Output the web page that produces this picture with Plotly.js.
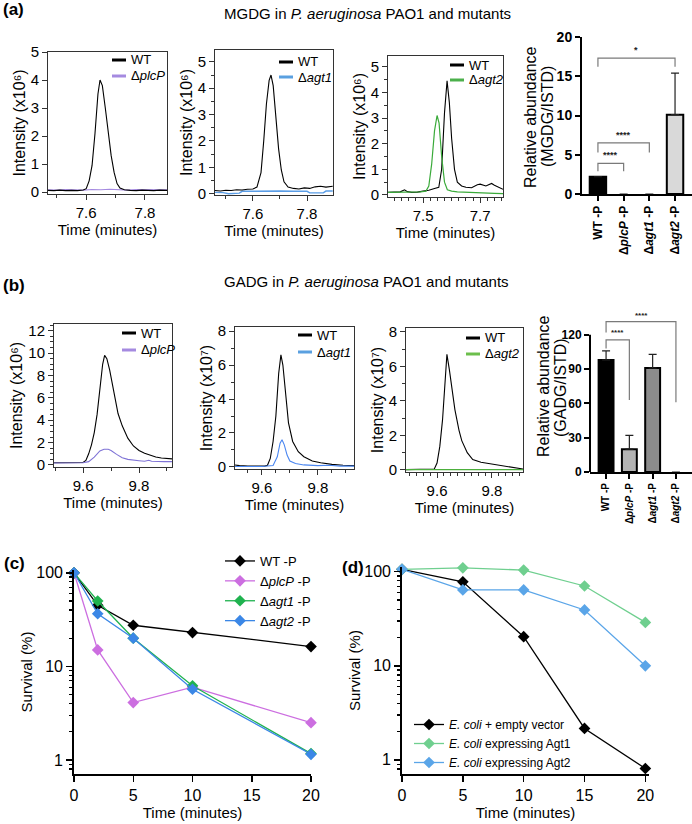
<!DOCTYPE html>
<html><head><meta charset="utf-8">
<script src="https://cdn.plot.ly/plotly-3.0.1.min.js"></script>
<style>html,body{margin:0;padding:0;background:#fff}#chart{width:692px;height:824px}</style>
</head><body><div id="chart"></div>
<script>
// ================= DATA =================
// (a) MGDG chromatograms (intensity, x10^6)
const a1WtT = [7.47,7.49,7.51,7.53,7.55,7.57,7.59,7.60,7.61,7.62,7.63,7.64,7.647,7.655,7.665,7.675,7.685,7.695,7.705,7.715,7.73,7.75,7.77,7.79,7.81,7.83,7.85,7.875];
const a1WtY = [0.06,0.05,0.07,0.05,0.06,0.05,0.07,0.12,0.4,0.95,2.1,3.5,4.0,3.8,3.0,2.1,1.3,0.7,0.3,0.14,0.08,0.06,0.05,0.07,0.06,0.05,0.07,0.06];
const a1PlcT = [7.47,7.50,7.53,7.56,7.59,7.62,7.65,7.68,7.71,7.74,7.77,7.80,7.83,7.86,7.875];
const a1PlcY = [0.08,0.07,0.09,0.08,0.07,0.09,0.08,0.1,0.08,0.07,0.09,0.08,0.07,0.08,0.08];

const a2WtT = [7.46,7.48,7.50,7.52,7.54,7.56,7.58,7.60,7.615,7.63,7.64,7.65,7.66,7.667,7.675,7.685,7.695,7.705,7.715,7.73,7.75,7.77,7.79,7.81,7.83,7.85,7.87,7.895];
const a2WtY = [0.12,0.1,0.13,0.12,0.15,0.14,0.17,0.18,0.25,0.8,2.0,3.4,4.3,4.5,4.1,2.9,1.7,0.9,0.45,0.25,0.2,0.18,0.22,0.2,0.26,0.28,0.25,0.28];
const a2Agt1T = [7.46,7.49,7.51,7.53,7.55,7.56,7.60,7.65,7.70,7.75,7.80,7.81,7.84,7.86,7.87,7.895];
const a2Agt1Y = [0.05,0.04,0.0,0.01,0.02,0.09,0.1,0.09,0.1,0.09,0.09,0.03,0.02,0.03,0.1,0.1];

const a3WtT = [7.377,7.40,7.42,7.435,7.445,7.46,7.48,7.50,7.52,7.54,7.555,7.565,7.575,7.584,7.592,7.60,7.61,7.62,7.635,7.65,7.67,7.69,7.70,7.72,7.74,7.75,7.765,7.78];
const a3WtY = [0.1,0.1,0.12,0.2,0.13,0.1,0.11,0.15,0.18,0.25,0.3,1.0,3.2,4.45,3.6,2.2,1.0,0.5,0.35,0.3,0.28,0.4,0.42,0.35,0.45,0.38,0.3,0.22];
const a3Agt2T = [7.377,7.40,7.43,7.46,7.49,7.51,7.52,7.53,7.54,7.549,7.556,7.565,7.575,7.585,7.60,7.62,7.65,7.68,7.72,7.75,7.78];
const a3Agt2Y = [0.1,0.1,0.11,0.12,0.12,0.15,0.35,1.2,2.5,3.1,2.8,1.5,0.5,0.2,0.15,0.12,0.1,0.09,0.07,0.06,0.05];

// (b) GADG chromatograms
const b1WtT = [9.496,9.52,9.55,9.58,9.60,9.61,9.62,9.63,9.64,9.65,9.66,9.67,9.677,9.685,9.695,9.705,9.715,9.725,9.74,9.76,9.78,9.80,9.82,9.84,9.86,9.88,9.90,9.918];
const b1WtY = [0.2,0.2,0.2,0.21,0.22,0.4,1.0,1.8,2.9,4.5,6.8,9.0,9.8,9.5,8.5,7.2,5.8,4.6,3.5,2.4,1.7,1.3,1.05,0.85,0.72,0.63,0.58,0.55];
const b1PlcT = [9.496,9.53,9.57,9.60,9.62,9.64,9.66,9.675,9.69,9.70,9.72,9.74,9.76,9.78,9.80,9.82,9.835,9.845,9.86,9.89,9.918];
const b1PlcY = [0.18,0.18,0.19,0.2,0.3,0.7,1.25,1.4,1.4,1.3,0.95,0.65,0.5,0.42,0.38,0.33,0.42,0.34,0.31,0.3,0.3];

const b2WtT = [9.504,9.52,9.55,9.58,9.61,9.62,9.63,9.64,9.65,9.66,9.668,9.675,9.685,9.695,9.71,9.73,9.75,9.78,9.81,9.85,9.89,9.929];
const b2WtY = [0.12,0.08,0.05,0.05,0.05,0.1,0.5,1.5,3.0,5.5,6.6,6.0,4.2,2.6,1.5,0.9,0.6,0.35,0.25,0.15,0.1,0.08];
const b2Agt1T = [9.504,9.55,9.60,9.64,9.655,9.665,9.672,9.68,9.69,9.70,9.72,9.75,9.80,9.84,9.86,9.88,9.929];
const b2Agt1Y = [0.03,0.03,0.03,0.08,0.6,1.4,1.6,1.3,0.7,0.35,0.2,0.12,0.08,0.1,0.06,0.05,0.05];

const b3WtT = [9.487,9.52,9.56,9.59,9.60,9.61,9.62,9.628,9.636,9.645,9.655,9.665,9.68,9.69,9.71,9.73,9.76,9.79,9.82,9.855,9.88,9.90,9.913];
const b3WtY = [0.02,0.02,0.02,0.05,0.4,1.35,2.9,4.6,6.7,5.8,4.5,3.5,2.3,1.7,1.0,0.6,0.45,0.38,0.3,0.2,0.15,0.12,0.05];
const b3Agt2T = [9.487,9.55,9.65,9.75,9.85,9.913];
const b3Agt2Y = [0.02,0.02,0.02,0.02,0.02,0.02];

// Bar charts
const barCats = ['WT -P','ΔplcP -P','Δagt1 -P','Δagt2 -P'];
const barTickText = ['WT -P','Δ<i>plcP</i> -P','Δ<i>agt1</i> -P','Δ<i>agt2</i> -P'];
const mgdgMean = [2.2, 0, 0, 10.1];
const mgdgErr  = [0, 0, 0, 5.3];
const gadgMean = [98, 20, 91, 0];
const gadgErr  = [8, 12, 12, 0];
// significance brackets: [fromIdx, toIdx, leftDropY, topY, rightDropY, labelY, label]
const mgdgSig = [[0,3,16.2,17.3,16.2,18.4,'*'],[0,2,5.3,6.5,5.3,7.5,'****'],[0,1,2.9,3.9,2.9,5.0,'****']];
const gadgSig = [[0,3,122,131.5,61,137,'****'],[0,1,108,115.6,63,122,'****']];

// (c) survival, P. aeruginosa
const cTime = [0,2,5,10,20];
const cWT   = [100,45,27.5,23,16.3];
const cPlcP = [100,15,4.1,6.0,2.5];
const cAgt1 = [100,50,20,6.2,1.17];
const cAgt2 = [100,36.5,20,5.7,1.15];
// (d) survival, E. coli
const dTime  = [0,5,10,15,20];
const dEmpty = [106,78,20.4,2.16,0.81];
const dAgt1  = [106,110,104,70.5,28.9];
const dAgt2  = [106,64,64,39.2,10];

// ================= LAYOUT HELPERS =================
const W = 692, H = 824;
const px = x => x / W;
const py = y => 1 - y / H;
const FONT = 'Arial, "Liberation Sans", sans-serif';
const AX = '#333';
const sfx = n => (n === 1 ? '' : String(n));

const layout = {
  width: W, height: H, margin: {l:0, r:0, t:0, b:0},
  paper_bgcolor: '#fff', plot_bgcolor: '#fff',
  font: {family: FONT, color: '#000'},
  showlegend: true,
  annotations: [], shapes: []
};
const data = [];

function chrom(n, box, xr, yr, xtick0, xminor, ydt, yminor, ytitle) {
  const s = sfx(n);
  layout['xaxis' + s] = {
    domain: [px(box[0]), px(box[1])], range: xr, anchor: 'y' + s,
    showline: true, mirror: true, linecolor: AX, linewidth: 1,
    ticks: 'outside', ticklen: 5, tickcolor: AX, tickwidth: 1,
    dtick: 0.2, tick0: xtick0, tickformat: '.1f', tickfont: {size: 15},
    minor: {dtick: xminor, ticks: 'outside', ticklen: 3, tickcolor: AX},
    showgrid: false, zeroline: false,
    title: {text: 'Time (minutes)', font: {size: 15}, standoff: 3}
  };
  layout['yaxis' + s] = {
    domain: [py(box[3]), py(box[2])], range: yr, anchor: 'x' + s,
    showline: true, mirror: true, linecolor: AX, linewidth: 1,
    ticks: 'outside', ticklen: 5, tickcolor: AX, tickwidth: 1,
    dtick: ydt, tick0: 0, tickfont: {size: 15},
    minor: yminor ? {dtick: yminor, ticks: 'outside', ticklen: 3, tickcolor: AX} : undefined,
    showgrid: false, zeroline: false,
    title: {text: ytitle, font: {size: 16}, standoff: 1}
  };
}
function line(n, t, y, color, w) {
  const s = sfx(n);
  data.push({type: 'scatter', mode: 'lines', x: t, y: y, xaxis: 'x' + s, yaxis: 'y' + s,
    line: {color: color, width: w || 1.1}, showlegend: false, hoverinfo: 'skip'});
}
function keyItem(x, y, color, text) {
  layout.shapes.push({type: 'line', xref: 'paper', yref: 'paper', x0: px(x), x1: px(x + 14), y0: py(y), y1: py(y),
    line: {color: color, width: 3}});
  layout.annotations.push({xref: 'paper', yref: 'paper', x: px(x + 17), y: py(y), xanchor: 'left', yanchor: 'middle',
    text: text, showarrow: false, font: {size: 13}});
}
function label(text, x, y, size, anchor, angle) {
  layout.annotations.push({xref: 'paper', yref: 'paper', x: px(x), y: py(y), xanchor: anchor || 'left', yanchor: 'middle',
    text: text, showarrow: false, font: {size: size}, textangle: angle || 0});
}

// ---------- (a) chromatograms ----------
const I6 = 'Intensity (x10⁶)', I7 = 'Intensity (x10⁷)';
chrom(1, [48, 167, 52, 194], [7.47, 7.875], [-0.07, 5.0], 0, 0.1, 1, null, I6);
chrom(2, [215, 333, 50, 195], [7.46, 7.896], [-0.05, 5.45], 0, 0.1, 1, 0.5, I6);
chrom(3, [388, 503, 56, 197], [7.377, 7.78], [-0.08, 5.42], 0.1, 0.025, 1, 0.5, I6);
line(1, a1PlcT, a1PlcY, '#a58ae0');
line(1, a1WtT, a1WtY, '#000');
line(2, a2Agt1T, a2Agt1Y, '#5a9de6', 1.4);
line(2, a2WtT, a2WtY, '#000');
line(3, a3WtT, a3WtY, '#000');
line(3, a3Agt2T, a3Agt2Y, '#3aaa3a', 1.2);
keyItem(112, 60, '#000', 'WT'); keyItem(112, 76, '#a58ae0', 'Δ<i>plcP</i>');
keyItem(279, 62, '#000', 'WT'); keyItem(279, 77, '#5aa0e0', 'Δ<i>agt1</i>');
keyItem(450, 65, '#000', 'WT'); keyItem(450, 80, '#4cb04c', 'Δ<i>agt2</i>');

// ---------- (b) chromatograms ----------
chrom(5, [54, 172, 324, 467], [9.496, 9.918], [-0.18, 12.6], 0, 0.1, 2, 0.5, I6);
chrom(6, [235, 354, 327, 469], [9.504, 9.929], [-0.12, 8.24], 0, 0.05, 2, 1, I7);
chrom(7, [406, 523, 328, 472], [9.487, 9.913], [-0.12, 8.23], 0, 0.025, 2, 1, I7);
line(5, b1WtT, b1WtY, '#000');
line(5, b1PlcT, b1PlcY, '#7f73d6');
line(6, b2WtT, b2WtY, '#000');
line(6, b2Agt1T, b2Agt1Y, '#4a86f0');
line(7, b3WtT, b3WtY, '#000');
line(7, b3Agt2T, b3Agt2Y, '#4caf3c', 1.4);
keyItem(122, 333, '#000', 'WT'); keyItem(122, 350, '#a58ae0', 'Δ<i>plcP</i>');
keyItem(298, 335, '#000', 'WT'); keyItem(298, 352, '#5aa0e0', 'Δ<i>agt1</i>');
keyItem(466, 338, '#000', 'WT'); keyItem(466, 354, '#6cbf4c', 'Δ<i>agt2</i>');

// ---------- bar charts ----------
function barAxes(n, box, xr, yr, tickvals, yTickSize, xTickSize, drawLineTo) {
  const s = sfx(n);
  layout['xaxis' + s] = {
    domain: [px(box[0]), px(box[1])], range: xr, anchor: 'y' + s, type: 'category',
    categoryorder: 'array', categoryarray: barCats, tickvals: barCats, ticktext: barTickText,
    tickangle: -90, showline: true, linewidth: 2, linecolor: '#000',
    ticks: 'outside', ticklen: 5, tickwidth: 2, tickcolor: '#000',
    tickfont: {size: xTickSize, weight: 700}, showgrid: false, zeroline: false
  };
  layout['yaxis' + s] = {
    domain: [py(box[3]), py(box[2])], range: yr, anchor: 'x' + s,
    tickvals: tickvals, showline: drawLineTo == null, linewidth: 2, linecolor: '#000',
    ticks: 'outside', ticklen: 5, tickwidth: 2, tickcolor: '#000',
    tickfont: {size: yTickSize, weight: 700}, showgrid: false, zeroline: false
  };
  if (drawLineTo != null) {
    layout.shapes.push({type: 'line', xref: 'x' + s + ' domain', yref: 'y' + s + ' domain',
      x0: 0, x1: 0, y0: 0, y1: (drawLineTo - yr[0]) / (yr[1] - yr[0]), line: {color: '#000', width: 2}});
  }
}
function bars(n, mean, err, colors, sig, labSize) {
  const s = sfx(n);
  data.push({type: 'bar', x: barCats, y: mean, xaxis: 'x' + s, yaxis: 'y' + s, width: 0.64,
    marker: {color: colors, line: {color: '#000', width: mean.map(v => (v > 0 ? 2 : 0))}},
    error_y: {type: 'data', symmetric: false, array: err, arrayminus: mean.map(() => 0),
      color: '#222', thickness: 1.2, width: 4},
    showlegend: false, hoverinfo: 'skip'});
  sig.forEach(b => {
    data.push({type: 'scatter', mode: 'lines', xaxis: 'x' + s, yaxis: 'y' + s,
      x: [barCats[b[0]], barCats[b[0]], barCats[b[1]], barCats[b[1]]], y: [b[2], b[3], b[3], b[4]],
      line: {color: '#7a7a7a', width: 1.2}, showlegend: false, hoverinfo: 'skip'});
    layout.annotations.push({xref: 'x' + s, yref: 'y' + s, x: (b[0] + b[1]) / 2, y: b[5],
      text: '<b>' + b[6] + '</b>', showarrow: false, font: {size: labSize, color: '#222'}, yanchor: 'middle'});
  });
}
barAxes(4, [582, 692, 37, 194], [-0.62, 3.66], [0, 20], [0, 5, 10, 15, 20], 14, 12, null);
bars(4, mgdgMean, mgdgErr, ['#000', '#bbb', '#888', '#d9d9d9'], mgdgSig, 9);
barAxes(8, [590, 692, 312, 472], [-0.69, 3.69], [0, 140], [0, 30, 60, 90, 120], 12, 10, 120);
bars(8, gadgMean, gadgErr, ['#000', '#b3b3b3', '#8c8c8c', '#d9d9d9'], gadgSig, 8);
// bar-chart y titles (two lines, rotated)
label('Relative abundance', 530, 117, 16, 'center', -90);
label('(MGDG/ISTD)', 547, 117, 16, 'center', -90);
label('Relative abundance', 543, 386, 16, 'center', -90);
label('(GADG/ISTD)', 560, 388, 16, 'center', -90);

// ---------- survival curves ----------
function survAxes(n, box, xr, yr) {
  const s = sfx(n);
  layout['xaxis' + s] = {
    domain: [px(box[0]), px(box[1])], range: xr, anchor: 'y' + s, dtick: 5, tick0: 0,
    showline: true, linewidth: 1.8, linecolor: '#000', ticks: 'outside', ticklen: 6, tickwidth: 1.5, tickcolor: '#000',
    tickfont: {size: 16}, showgrid: false, zeroline: false,
    title: {text: 'Time (minutes)', font: {size: 15}, standoff: 3}
  };
  layout['yaxis' + s] = {
    domain: [py(box[3]), py(box[2])], type: 'log', range: yr, anchor: 'x' + s, dtick: 1,
    showline: true, linewidth: 1.8, linecolor: '#000', ticks: 'outside', ticklen: 6, tickwidth: 1.5, tickcolor: '#000',
    minor: {dtick: 'D1', ticks: 'outside', ticklen: 3, tickwidth: 1.2, tickcolor: '#000'},
    tickfont: {size: 16}, showgrid: false, zeroline: false,
    title: {text: 'Survival (%)', font: {size: 15}, standoff: 0}
  };
}
function surv(n, t, y, color, name, leg) {
  const s = sfx(n);
  data.push({type: 'scatter', mode: 'lines+markers', x: t, y: y, xaxis: 'x' + s, yaxis: 'y' + s,
    name: name, legend: leg, cliponaxis: false,
    line: {color: color, width: 1.3}, marker: {symbol: 'diamond', size: 9, color: color}, hoverinfo: 'skip'});
}
survAxes(9, [74, 311, 570, 774], [0, 20], [-0.15, 2.03]);
survAxes(10, [402, 649, 567, 774], [0, 20.3], [-0.15, 2.05]);
surv(9, cTime, cWT, '#000', 'WT -P', 'legend');
surv(9, cTime, cPlcP, '#cc6ee0', 'Δ<i>plcP</i> -P', 'legend');
surv(9, cTime, cAgt1, '#1fb24f', 'Δ<i>agt1</i> -P', 'legend');
surv(9, cTime, cAgt2, '#3b87e6', 'Δ<i>agt2</i> -P', 'legend');
surv(10, dTime, dEmpty, '#000', '<i>E. coli</i> + empty vector', 'legend2');
surv(10, dTime, dAgt1, '#6fcf8f', '<i>E. coli</i> expressing Agt1', 'legend2');
surv(10, dTime, dAgt2, '#5aa5e8', '<i>E. coli</i> expressing Agt2', 'legend2');
layout.legend = {x: px(220), y: py(546), xanchor: 'left', yanchor: 'top', font: {size: 13},
  bgcolor: 'rgba(0,0,0,0)', itemwidth: 30, tracegroupgap: 0, traceorder: 'normal'};
layout.legend2 = {x: px(409), y: py(710), xanchor: 'left', yanchor: 'top', font: {size: 12},
  bgcolor: 'rgba(0,0,0,0)', itemwidth: 30, tracegroupgap: 0, traceorder: 'normal'};

// ---------- panel labels & titles ----------
label('<b>(a)</b>', 1, 10, 17);
label('MGDG in <i>P. aeruginosa</i> PAO1 and mutants', 222, 13, 15);
label('<b>(b)</b>', 1, 285, 17);
label('GADG in <i>P. aeruginosa</i> PAO1 and mutants', 222, 282, 15);
label('<b>(c)</b>', 2, 563, 17);
label('<b>(d)</b>', 340, 567, 17);

Plotly.newPlot('chart', data, layout, {staticPlot: true, displayModeBar: false});
</script>
</body></html>
